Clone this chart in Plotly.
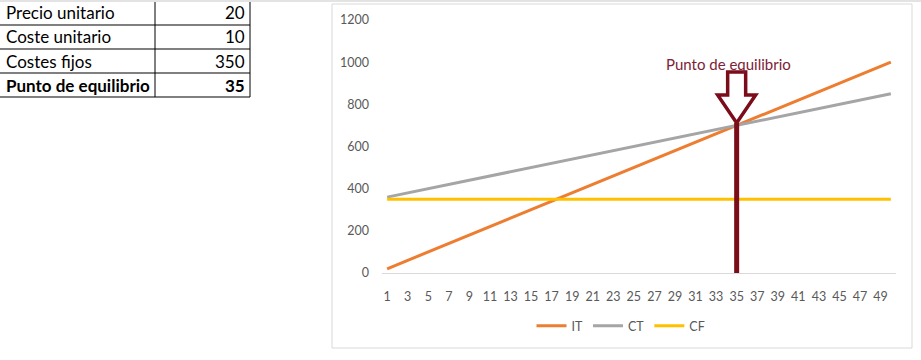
import plotly.graph_objects as go

# ---- data ----
table_labels = ["Precio unitario", "Coste unitario", "Costes fijos", "Punto de equilibrio"]
table_values = [20, 10, 350, 35]

units = [1, 2, 3, 4, 5, 6, 7, 8, 9, 10, 11, 12, 13, 14, 15, 16, 17, 18, 19, 20,
         21, 22, 23, 24, 25, 26, 27, 28, 29, 30, 31, 32, 33, 34, 35, 36, 37, 38, 39, 40,
         41, 42, 43, 44, 45, 46, 47, 48, 49, 50]
it_values = [20, 40, 60, 80, 100, 120, 140, 160, 180, 200, 220, 240, 260, 280, 300, 320, 340, 360, 380, 400,
             420, 440, 460, 480, 500, 520, 540, 560, 580, 600, 620, 640, 660, 680, 700, 720, 740, 760, 780, 800,
             820, 840, 860, 880, 900, 920, 940, 960, 980, 1000]
ct_values = [360, 370, 380, 390, 400, 410, 420, 430, 440, 450, 460, 470, 480, 490, 500, 510, 520, 530, 540, 550,
             560, 570, 580, 590, 600, 610, 620, 630, 640, 650, 660, 670, 680, 690, 700, 710, 720, 730, 740, 750,
             760, 770, 780, 790, 800, 810, 820, 830, 840, 850]
cf_values = [350] * 50
x_tick_labels = [1, 3, 5, 7, 9, 11, 13, 15, 17, 19, 21, 23, 25, 27, 29, 31, 33, 35, 37, 39,
                 41, 43, 45, 47, 49]
series_names = ["IT", "CT", "CF"]
series_colors = ["#ED7D31", "#A5A5A5", "#FFC000"]

be_units = table_values[3]

W, H = 921, 360
PL, PR, PT, PB = 382, 896, 20, 273
Y_MAX = 1200
X_MIN, X_MAX = 0.5, 50.5

def px_to_y(py):
    return (PB - py) / (PB - PT) * Y_MAX

def px_per_x():
    return (PR - PL) / (X_MAX - X_MIN)

def fx(px):
    return px / W

def fy(py):
    return 1 - py / H

FONT = "Lato"
TXT = "#595959"
MAROON = "#7B0C1A"

fig = go.Figure()

for name, vals, col in zip(series_names, [it_values, ct_values, cf_values], series_colors):
    fig.add_trace(go.Scatter(x=units, y=vals, name=name, mode="lines",
                             line=dict(color=col, width=3)))

# ---- Excel-like table (drawn with shapes/annotations) ----
ROW_H = 24
T_TOP, T_LEFT, T_DIV, T_RIGHT = 1, 0, 155, 250
for i, (lab, val) in enumerate(zip(table_labels, table_values)):
    bold = i == len(table_labels) - 1
    yc = T_TOP + ROW_H * i + ROW_H / 2
    lab_txt = f"<b>{lab}</b>" if bold else lab
    val_txt = f"<b>{val}</b>" if bold else str(val)
    fig.add_annotation(x=fx(T_LEFT + 4), y=fy(yc), xref="paper", yref="paper",
                       xanchor="left", yanchor="middle", text=lab_txt, showarrow=False,
                       font=dict(family=FONT, size=17, color="black"))
    fig.add_annotation(x=fx(T_RIGHT - 3), y=fy(yc), xref="paper", yref="paper",
                       xanchor="right", yanchor="middle", text=val_txt, showarrow=False,
                       font=dict(family=FONT, size=17, color="black"))
    fig.add_shape(type="line", xref="paper", yref="paper",
                  x0=fx(T_LEFT), x1=fx(T_RIGHT), y0=fy(T_TOP + ROW_H * (i + 1)), y1=fy(T_TOP + ROW_H * (i + 1)),
                  line=dict(color="black", width=1))
n_rows = len(table_labels)
for xv in (T_DIV, T_RIGHT):
    fig.add_shape(type="line", xref="paper", yref="paper",
                  x0=fx(xv), x1=fx(xv), y0=fy(0), y1=fy(T_TOP + ROW_H * n_rows),
                  line=dict(color="black", width=1))

# top light gridline band
fig.add_shape(type="line", xref="paper", yref="paper",
              x0=0, x1=1, y0=fy(1), y1=fy(1),
              line=dict(color="#E3E3E3", width=2))

# chart border
fig.add_shape(type="rect", xref="paper", yref="paper",
              x0=fx(332), x1=fx(912), y0=fy(348), y1=fy(4),
              line=dict(color="#D9D9D9", width=1), fillcolor="rgba(0,0,0,0)", layer="below")

# breakeven vertical line and hollow arrow
tip = px_to_y(123)
shoulder = px_to_y(95)
top = px_to_y(72)
sw = 9 / px_per_x()
hw = 19 / px_per_x()
xb = be_units
fig.add_shape(type="line", x0=xb, x1=xb, y0=0, y1=tip, xref="x", yref="y",
              line=dict(color=MAROON, width=5))
path = (f"M {xb - sw},{top} L {xb + sw},{top} L {xb + sw},{shoulder} L {xb + hw},{shoulder} "
        f"L {xb},{tip} L {xb - hw},{shoulder} L {xb - sw},{shoulder} Z")
fig.add_shape(type="path", path=path, xref="x", yref="y",
              line=dict(color=MAROON, width=3.5), fillcolor="white")

fig.add_annotation(x=xb, y=px_to_y(64), xref="x", yref="y", xshift=-8,
                   text="Punto de equilibrio", showarrow=False,
                   font=dict(family=FONT, size=15, color="#7D2236"))

fig.update_layout(
    width=W, height=H,
    margin=dict(l=0, r=0, t=0, b=0, autoexpand=False),
    paper_bgcolor="white", plot_bgcolor="white",
    font=dict(family=FONT, size=12, color=TXT),
    xaxis=dict(domain=[PL / W, PR / W], range=[X_MIN, X_MAX], automargin=False,
               tickmode="array", tickvals=x_tick_labels, ticktext=[str(t) for t in x_tick_labels],
               showgrid=False, zeroline=False, showline=True, linecolor="#D9D9D9", linewidth=1,
               ticks="", ticklabelstandoff=12, tickfont=dict(size=12.5, color=TXT)),
    yaxis=dict(domain=[1 - PB / H, 1 - PT / H], range=[0, Y_MAX], dtick=200, automargin=False,
               showgrid=False, zeroline=False, showline=False,
               ticks="", ticklabelstandoff=12, tickfont=dict(size=12.5, color=TXT)),
    legend=dict(orientation="h", x=fx(621), y=fy(326), xanchor="center", yanchor="middle",
                font=dict(size=12.5, color=TXT), bgcolor="rgba(0,0,0,0)"),
    showlegend=True,
)

fig.write_html("out.html", config={"displayModeBar": False},
               post_script="document.body.style.margin='0';")
